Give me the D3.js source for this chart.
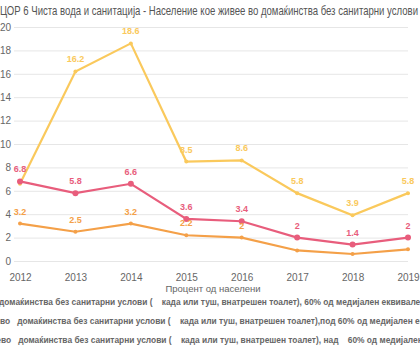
<!DOCTYPE html>
<html>
<head>
<meta charset="utf-8">
<script src="https://cdn.jsdelivr.net/npm/d3@7"></script>
<style>
  body { margin: 0; background: #fff; overflow: hidden; }
  svg { display: block; font-family: "Liberation Sans", Arial, sans-serif; }
</style>
</head>
<body>
<div id="chart"></div>
<script>
'use strict';

var years = ['2012', '2013', '2014', '2015', '2016', '2017', '2018', '2019'];
var yTicks = [0, 2, 4, 6, 8, 10, 12, 14, 16, 18, 20];

// series values
var underMedian = [6.6, 16.2, 18.6, 8.5, 8.6, 5.8, 3.9, 5.8];
var total = [6.8, 5.8, 6.6, 3.6, 3.4, 2, 1.4, 2];
var overMedian = [3.2, 2.5, 3.2, 2.2, 2, 0.9, 0.6, 1.0];

// which points show a value label
var underLabels = [false, true, true, true, true, true, true, true];
var totalLabels = [true, true, true, true, true, true, true, true];
var overLabels = [true, true, true, true, true, false, false, false];

var title = 'ЦОР 6 Чиста вода и санитација - Население кое живее во домаќинства без санитарни услови';
var axisTitle = 'Процент од населени';
var legendPrefix = ['Население кое живее во ', 'Население кое живее ', 'Население кое живее '];
var legendRest = [
  'домаќинства без санитарни услови (    када или туш, внатрешен тоалет), 60% од медијален еквивалентен доход',
  'во   домаќинства без санитарни услови (    када или туш, внатрешен тоалет),под 60% од медијален еквивалентен доход',
  'во   домаќинства без санитарни услови (    када или туш, внатрешен тоалет), над    60% од медијален еквивалентен доход'
];

var width = 420, height = 350;
var svg = d3.select('#chart').append('svg')
  .attr('width', width)
  .attr('height', height);

var x = d3.scalePoint().domain(years).range([20, 408]);
var y = d3.scaleLinear().domain([0, 20]).range([261, 27]);

// title
svg.append('text')
  .attr('x', 0)
  .attr('y', 15)
  .attr('textLength', 418)
  .attr('lengthAdjust', 'spacingAndGlyphs')
  .style('font-size', '13px')
  .style('fill', '#555')
  .text(title);

// y grid
var yAxis = d3.axisLeft(y).tickValues(yTicks).tickSize(-(408 - 14)).tickPadding(3);
var gy = svg.append('g').attr('transform', 'translate(14,0)').call(yAxis);
gy.select('.domain').remove();
gy.selectAll('.tick line').attr('stroke', '#e6e6e6').attr('stroke-width', 1);
gy.selectAll('.tick text').style('font-size', '10px').style('fill', '#666').attr('font-family', null);

// x axis
var xAxis = d3.axisBottom(x).tickSize(0).tickPadding(8);
var gx = svg.append('g').attr('transform', 'translate(0,' + 266 + ')').call(xAxis);
gx.select('.domain').remove();
gx.selectAll('.tick text').style('font-size', '10px').style('fill', '#666').attr('font-family', null);

svg.append('text')
  .attr('x', 213)
  .attr('y', 292)
  .attr('text-anchor', 'middle')
  .style('font-size', '9.5px')
  .style('fill', '#666')
  .text(axisTitle);

var series = [
  { values: underMedian, labels: underLabels, color: '#fac95c', r: 2 },
  { values: total, labels: totalLabels, color: '#e85d7c', r: 3 },
  { values: overMedian, labels: overLabels, color: '#f4a048', r: 2 }
];

var line = d3.line()
  .x(function(d, i) { return x(years[i]); })
  .y(function(d) { return y(d); });

series.forEach(function(s) {
  var pts = s.values.map(function(v, i) { return { year: years[i], value: v, show: s.labels[i] }; });
  var g = svg.append('g');
  g.append('path')
    .datum(s.values)
    .attr('d', line)
    .attr('fill', 'none')
    .attr('stroke', s.color)
    .attr('stroke-width', 2.2);
  g.selectAll('circle').data(pts).enter()
    .append('circle')
    .attr('cx', function(d) { return x(d.year); })
    .attr('cy', function(d) { return y(d.value); })
    .attr('r', s.r)
    .attr('fill', s.color);
  g.selectAll('text').data(pts.filter(function(d) { return d.show; })).enter()
    .append('text')
    .attr('x', function(d) { return x(d.year); })
    .attr('y', function(d) { return y(d.value) - 9; })
    .attr('text-anchor', 'middle')
    .style('font-size', '9px')
    .style('font-weight', 'bold')
    .style('fill', s.color)
    .text(function(d) { return d.value; });
});

// legend (overflows the window like the original)
legendRest.forEach(function(t, i) {
  var ly = 305 + i * 19;
  var xs = [-1, 0, 1][i];
  svg.append('text')
    .attr('x', xs)
    .attr('y', ly)
    .attr('text-anchor', 'end')
    .style('font-size', '8.4px')
    .style('font-weight', 'bold')
    .style('fill', '#666')
    .text(legendPrefix[i]);
  svg.append('text')
    .attr('x', xs)
    .attr('y', ly)
    .style('font-size', '8.4px')
    .style('font-weight', 'bold')
    .style('fill', '#666')
    .style('white-space', 'pre')
    .attr('xml:space', 'preserve')
    .text(t);
});
</script>
</body>
</html>
